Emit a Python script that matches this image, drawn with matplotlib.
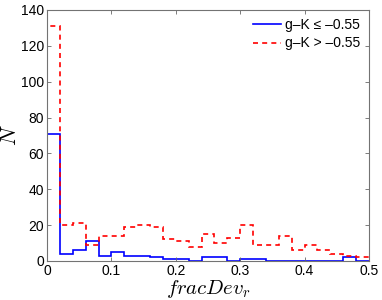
import numpy as np
import matplotlib
matplotlib.use("Agg")
import matplotlib.pyplot as plt

# bin counts (bin width 0.02, 0 to 0.5)
bin_start = 0.0
bin_stop = 0.5
n_bins = 25
blue_counts = [71, 4, 6, 11, 3, 5, 3, 3, 2, 1, 1, 0, 2, 2, 0, 1, 1, 0, 0, 0, 0, 0, 0, 2, 0]
red_counts = [131, 20, 21, 9, 14, 14, 19, 20, 19, 12, 11, 8, 15, 10, 13, 20, 9, 9, 14, 6, 9, 6, 4, 3, 2]
x_ticks = [0, 0.1, 0.2, 0.3, 0.4, 0.5]
x_tick_labels = ["0", "0.1", "0.2", "0.3", "0.4", "0.5"]
y_ticks = [0, 20, 40, 60, 80, 100, 120, 140]

plt.rcParams['font.family'] = ['Liberation Sans', 'DejaVu Sans']
plt.rcParams['mathtext.fontset'] = 'cm'

edges = np.linspace(bin_start, bin_stop, n_bins + 1)

fig = plt.figure(figsize=(3.82, 3.0), dpi=100)
ax = fig.add_axes([0.123, 0.13, 0.843, 0.837])

ax.stairs(blue_counts, edges, color=(0, 0, 1), linewidth=1.2,
          label="g\u2013K \u2264 \u20130.55")
ax.stairs(red_counts, edges, color=(1, 0, 0), linewidth=1.2,
          linestyle=(0, (3, 2.5)), label="g\u2013K > \u20130.55")

ax.set_xlim(0, 0.5)
ax.set_ylim(0, 140)
ax.set_xticks(x_ticks)
ax.set_xticklabels(x_tick_labels)
ax.set_yticks(y_ticks)

ax.tick_params(direction='in', length=3, width=0.6, color='0.4',
               top=True, right=True, labelsize=10, pad=2)
for s in ax.spines.values():
    s.set_color('0.45')
    s.set_linewidth(0.8)

ax.set_xlabel("$fracDev_r$", fontsize=15, labelpad=0)
ax.set_ylabel("$N$", fontsize=16, labelpad=0)

ax.legend(loc='upper right', frameon=False, fontsize=10, handlelength=2.0,
          handletextpad=0.3, borderaxespad=0.2, labelspacing=0.3)

fig.savefig("out.png", dpi=100)
